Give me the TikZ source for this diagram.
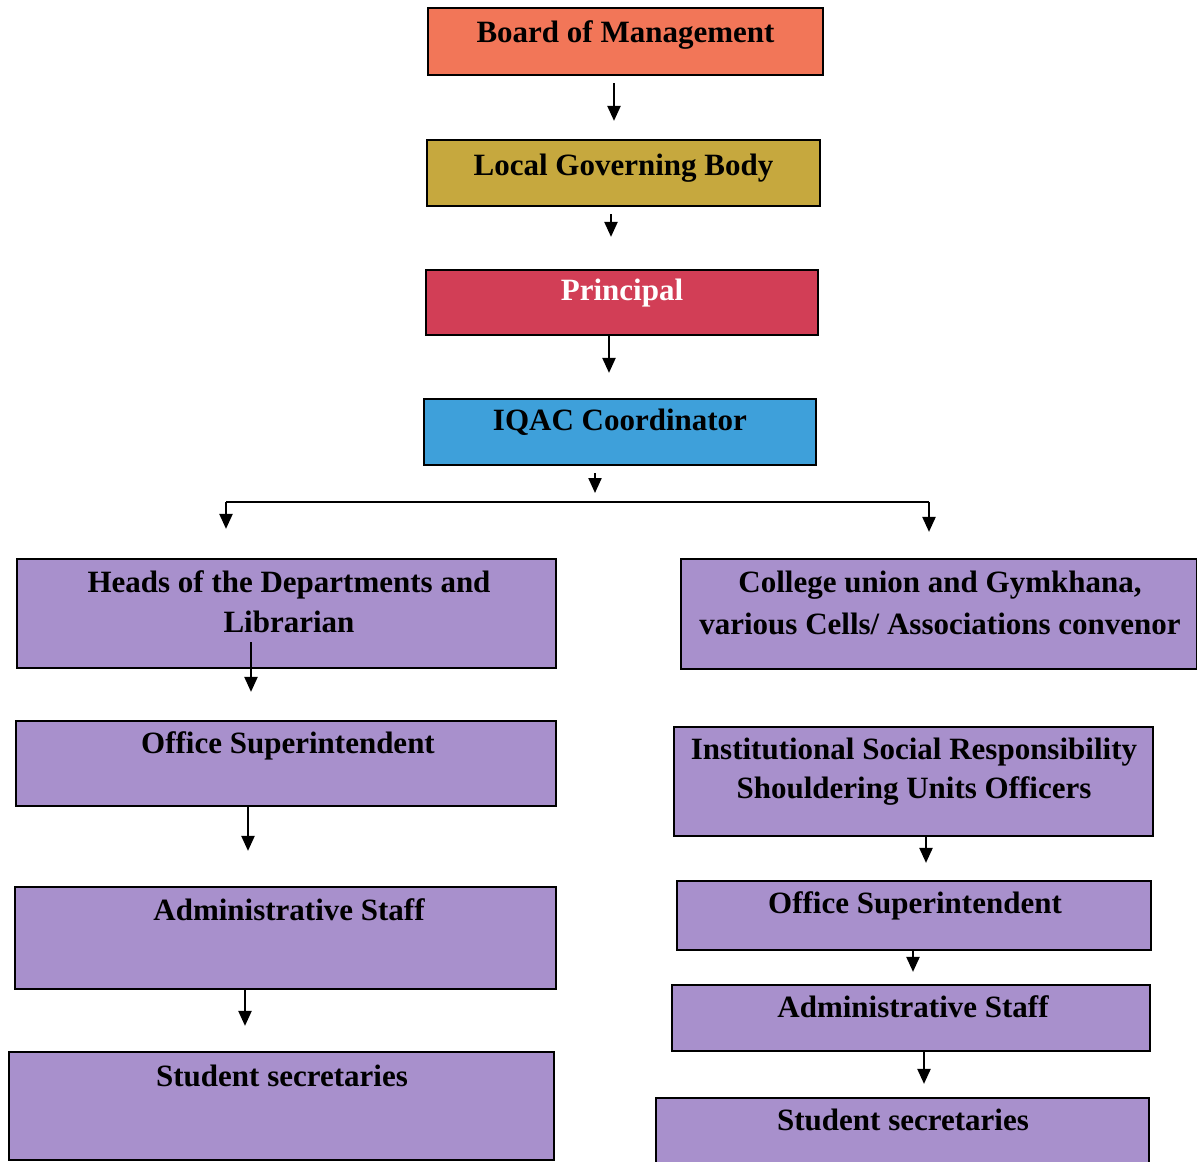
\documentclass[tikz,border=0pt]{standalone}
\usepackage{fontspec}
\setmainfont{Liberation Serif}
\usetikzlibrary{arrows.meta}
\definecolor{cBom}{RGB}{242,118,88}
\definecolor{cLgb}{RGB}{198,168,62}
\definecolor{cPrin}{RGB}{210,62,86}
\definecolor{cIqac}{RGB}{62,160,218}
\definecolor{cPur}{RGB}{168,144,204}
\tikzset{
  box/.style={draw=black, line width=2.2pt, inner sep=0pt, rectangle},
  txt/.style={anchor=base, inner sep=0pt, font=\fontsize{31}{36}\selectfont\bfseries},
  arr/.style={draw=black, line width=2.2pt, -{Triangle[width=13pt,length=15pt]}},
  ln/.style={draw=black, line width=2.2pt}
}
\begin{document}
\begin{tikzpicture}[x=1pt,y=-1pt]
\useasboundingbox (0,0) rectangle (1197,1162);
\fill[white] (0,0) rectangle (1197,1162);
\begin{scope}
\clip (0,0) rectangle (1197,1162);
% top column
\node[box, fill=cBom, minimum width=395, minimum height=67] (bom) at (625.5,41.5) {};
\node[txt] (bomT) at (625.5,42) {Board of Management};
\node[box, fill=cLgb, minimum width=393, minimum height=66] (lgb) at (623.5,173) {};
\node[txt] (lgbT) at (623.5,175) {Local Governing Body};
\node[box, fill=cPrin, minimum width=392, minimum height=65] (prin) at (622,302.5) {};
\node[txt, text=white] (prinT) at (622,300) {Principal};
\node[box, fill=cIqac, minimum width=392, minimum height=66] (iqac) at (620,432) {};
\node[txt] (iqacT) at (620,430) {IQAC Coordinator};
% left column
\node[box, fill=cPur, minimum width=539, minimum height=109] (heads) at (286.5,613.5) {};
\node[txt] (headsT1) at (289,592) {Heads of the Departments and};
\node[txt] (headsT2) at (289,632) {Librarian};
\node[box, fill=cPur, minimum width=540, minimum height=85] (osl) at (286,763.5) {};
\node[txt] (oslT) at (288,753) {Office Superintendent};
\node[box, fill=cPur, minimum width=541, minimum height=102] (asl) at (285.5,938) {};
\node[txt] (aslT) at (289,920) {Administrative Staff};
\node[box, fill=cPur, minimum width=545, minimum height=108] (ssl) at (281.5,1106) {};
\node[txt] (sslT) at (282,1086) {Student secretaries};
% right column
\node[box, fill=cPur, minimum width=516, minimum height=110] (cu) at (939,614) {};
\node[txt] (cuT1) at (940,592) {College union and Gymkhana,};
\node[txt] (cuT2) at (940,634) {various Cells/ Associations convenor};
\node[box, fill=cPur, minimum width=479, minimum height=109] (isr) at (913.5,781.5) {};
\node[txt] (isrT1) at (914,759) {Institutional Social Responsibility};
\node[txt] (isrT2) at (914,798) {Shouldering Units Officers};
\node[box, fill=cPur, minimum width=474, minimum height=69] (osr) at (914,915.5) {};
\node[txt] (osrT) at (915,913) {Office Superintendent};
\node[box, fill=cPur, minimum width=478, minimum height=66] (asr) at (911,1018) {};
\node[txt] (asrT) at (913,1017) {Administrative Staff};
\node[box, fill=cPur, minimum width=493, minimum height=80] (ssr) at (902.5,1138) {};
\node[txt] (ssrT) at (903,1130) {Student secretaries};
% connectors
\draw[arr, shorten <=7pt, shorten >=18pt] ([xshift=-11.5]bom.south) -- ([xshift=-11.5]bom.south |- lgb.north);
\draw[arr, shorten <=7pt, shorten >=32pt] ([xshift=-12.5]lgb.south) -- ([xshift=-12.5]lgb.south |- prin.north);
\draw[arr, shorten >=25pt] ([xshift=-13]prin.south) -- ([xshift=-13]prin.south |- iqac.north);
\coordinate (bl) at (226,502);
\coordinate (br) at (929,502);
\draw[arr, shorten <=7pt, shorten >=9pt] ([xshift=-25]iqac.south) -- ([xshift=-25]iqac.south |- bl);
\draw[ln] (bl) -- (br);
\draw[arr, shorten >=29pt] (bl) -- (bl |- heads.north);
\draw[arr, shorten >=26pt] (br) -- (br |- cu.north);
\draw[arr, shorten >=28pt] ([xshift=-35.5,yshift=27]heads.south) -- ([xshift=-35.5]heads.south |- osl.north);
\draw[arr, shorten >=35pt] ([xshift=-38]osl.south) -- ([xshift=-38]osl.south |- asl.north);
\draw[arr, shorten >=25pt] ([xshift=-40.5]asl.south) -- ([xshift=-40.5]asl.south |- ssl.north);
\draw[arr, shorten >=17pt] ([xshift=12.5]isr.south) -- ([xshift=12.5]isr.south |- osr.north);
\draw[arr, shorten >=12pt] ([xshift=-1]osr.south) -- ([xshift=-1]osr.south |- asr.north);
\draw[arr, shorten >=13pt] ([xshift=13]asr.south) -- ([xshift=13]asr.south |- ssr.north);
\end{scope}
\end{tikzpicture}
\end{document}
